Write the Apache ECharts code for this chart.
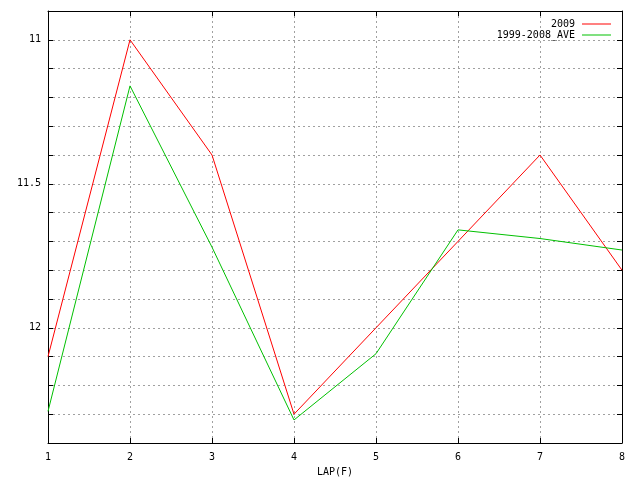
<!DOCTYPE html>
<html>
<head>
    <meta charset="UTF-8">
    <title>LAP(F)</title>
    <script src="https://cdn.jsdelivr.net/npm/echarts@6/dist/echarts.min.js"></script>
    <style>
        html, body { margin: 0; padding: 0; background: #fff; }
        #chart { width: 640px; height: 480px; }
    </style>
</head>
<body>
<div id="chart"></div>
<script>
    // data
    var laps = [1, 2, 3, 4, 5, 6, 7, 8];
    var lap2009 = [12.1, 11.0, 11.4, 12.3, 12.0, 11.7, 11.4, 11.8];
    var lapAve = [12.29, 11.16, 11.72, 12.32, 12.09, 11.66, 11.69, 11.73];
    var yLabels = ['11', '11.5', '12'];

    function pairs(vals) {
        return laps.map(function (x, i) { return [x, vals[i]]; });
    }

    var font = 'DejaVu Sans Mono';
    var gridLine = { show: true, showMinLine: false, showMaxLine: false,
        lineStyle: { color: '#a0a0a0', width: 1, type: [2, 3] } };
    var tick = { show: true, inside: true, length: 5, lineStyle: { color: '#000' } };
    var line = { show: true, lineStyle: { color: '#000', width: 1 } };

    var myChart = echarts.init(document.getElementById('chart'));
    var option = {
        animation: false,
        textStyle: { fontFamily: font },
        grid: { left: 48, right: 18, top: 11, bottom: 37, outerBoundsMode: 'none', containLabel: false },
        legend: {
            orient: 'vertical',
            right: 24,
            top: 14,
            align: 'right',
            icon: 'rect',
            itemWidth: 29,
            itemHeight: 1,
            itemGap: 1,
            textStyle: { fontFamily: font, fontSize: 10, color: '#000', padding: [0, 2, 0, 0] },
            data: ['2009', '1999-2008_AVE']
        },
        xAxis: [{
            type: 'value', min: 1, max: 8, interval: 1,
            name: 'LAP(F)', nameLocation: 'middle', nameGap: 24,
            nameTextStyle: { fontFamily: font, fontSize: 10, color: '#000' },
            axisLine: line, axisTick: tick, splitLine: gridLine,
            axisLabel: { fontFamily: font, fontSize: 10, color: '#000', margin: 9 }
        }, {
            type: 'value', min: 1, max: 8, interval: 1, position: 'top',
            axisLine: line, axisTick: tick, splitLine: { show: false },
            axisLabel: { show: false }
        }],
        yAxis: [{
            type: 'value', inverse: true, min: 10.9, max: 12.4, interval: 0.1,
            axisLine: line, axisTick: tick, splitLine: gridLine,
            axisLabel: {
                fontFamily: font, fontSize: 10, color: '#000', margin: 7,
                formatter: function (v) {
                    var s = String(Math.round(v * 10) / 10);
                    return yLabels.indexOf(s) >= 0 ? s : '';
                }
            }
        }, {
            type: 'value', inverse: true, min: 10.9, max: 12.4, interval: 0.1, position: 'right',
            axisLine: line, axisTick: tick, splitLine: { show: false },
            axisLabel: { show: false }
        }],
        series: [{
            name: '2009',
            type: 'line',
            symbol: 'none',
            color: '#ff0000',
            lineStyle: { width: 1 },
            data: pairs(lap2009)
        }, {
            name: '1999-2008_AVE',
            type: 'line',
            symbol: 'none',
            color: '#00c000',
            lineStyle: { width: 1 },
            data: pairs(lapAve)
        }]
    };
    myChart.setOption(option);
</script>
</body>
</html>
